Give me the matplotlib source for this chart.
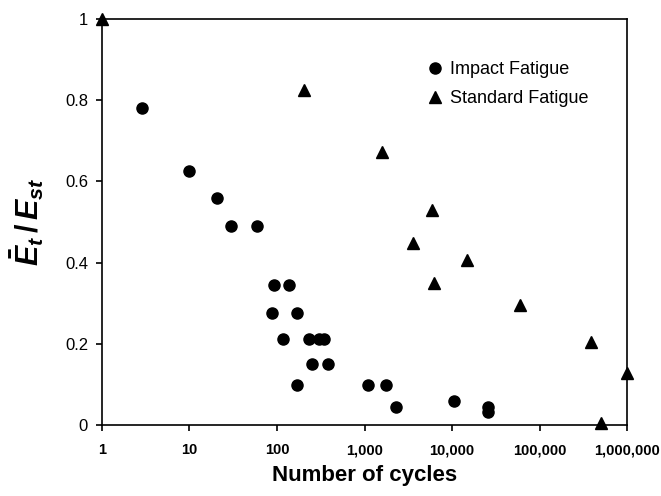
import matplotlib.pyplot as plt
from matplotlib.ticker import FixedLocator, NullLocator

plt.rcParams['font.family'] = ['Liberation Sans', 'DejaVu Sans']
plt.rcParams['mathtext.fontset'] = 'custom'
plt.rcParams['mathtext.it'] = 'Liberation Sans:italic:bold'
plt.rcParams['mathtext.rm'] = 'Liberation Sans:bold'
plt.rcParams['mathtext.bf'] = 'Liberation Sans:bold'

# impact fatigue tests
impact_cycles = [2.9, 9.9, 20.5, 30, 59, 93, 138, 87, 168, 116, 232, 302, 344,
                 249, 385, 168, 1090, 1760, 2300, 10500, 25600, 25600]
impact_ratio = [0.78, 0.626, 0.56, 0.491, 0.491, 0.345, 0.345, 0.275, 0.275,
                0.211, 0.211, 0.211, 0.211, 0.150, 0.150, 0.099, 0.099, 0.099,
                0.044, 0.060, 0.045, 0.033]

# standard fatigue tests
standard_cycles = [1, 204, 1570, 5960, 3550, 14700, 6220, 59800, 388000,
                   1000000, 500000]
standard_ratio = [1.0, 0.825, 0.673, 0.53, 0.448, 0.406, 0.349, 0.296, 0.205,
                  0.127, 0.004]

xticks = [1, 10, 100, 1000, 10000, 100000, 1000000]
xticklabels = ['1', '10', '100', '1,000', '10,000', '100,000', '1,000,000']
yticks = [0, 0.2, 0.4, 0.6, 0.8, 1.0]
yticklabels = ['0', '0.2', '0.4', '0.6', '0.8', '1']

fig = plt.figure(figsize=(6.61, 4.96), dpi=100)
ax = fig.add_axes([0.1543, 0.1431, 0.7943, 0.8186])

ax.plot(impact_cycles, impact_ratio, 'o', color='black', markersize=8,
        linestyle='none', label='Impact Fatigue', clip_on=False)
ax.plot(standard_cycles, standard_ratio, '^', color='black', markersize=9,
        linestyle='none', label='Standard Fatigue', clip_on=False)

ax.set_xscale('log')
ax.set_xlim(1, 1000000)
ax.set_ylim(0, 1)
ax.xaxis.set_major_locator(FixedLocator(xticks))
ax.xaxis.set_minor_locator(NullLocator())
ax.set_xticklabels(xticklabels, fontsize=10.5, fontweight='bold')
ax.set_yticks(yticks)
ax.set_yticklabels(yticklabels, fontsize=12)

for s in ax.spines.values():
    s.set_linewidth(1.2)
ax.tick_params(axis='both', direction='out', length=4, width=1.2)
ax.tick_params(axis='x', pad=9)
ax.tick_params(axis='y', pad=6)

ax.set_xlabel('Number of cycles', fontsize=16, fontweight='bold', labelpad=6)
ax.set_ylabel(r'$\bar{E}_t\,/\,E_{st}$', fontsize=22, labelpad=14)

ax.legend(loc='upper left', bbox_to_anchor=(0.59, 0.937), frameon=False,
          fontsize=13, handlelength=0.8, handletextpad=0.4, labelspacing=0.7)

fig.savefig('out.png', dpi=100)
